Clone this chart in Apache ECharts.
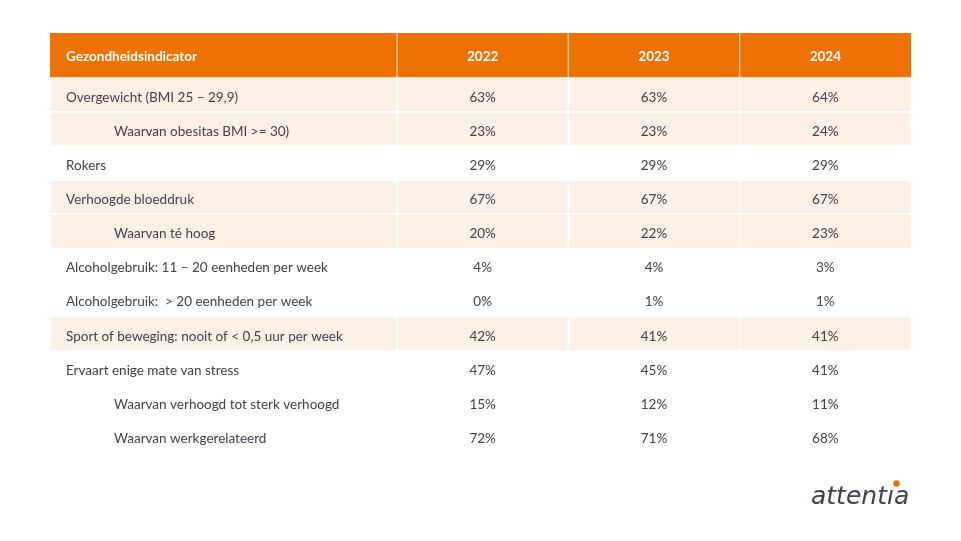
<!DOCTYPE html>
<html><head><meta charset="utf-8">
<script src="https://cdn.jsdelivr.net/npm/echarts@6/dist/echarts.min.js"></script>
<style>html,body{margin:0;padding:0;background:#fff}#c{width:961px;height:541px}</style>
</head><body><div id="c"></div>
<script>
// ---- data ----
const headerLabel = 'Gezondheidsindicator';
const years = ['2022', '2023', '2024'];
const indicators = [
  'Overgewicht (BMI 25 – 29,9)',
  'Waarvan obesitas BMI >= 30)',
  'Rokers',
  'Verhoogde bloeddruk',
  'Waarvan té hoog',
  'Alcoholgebruik: 11 – 20 eenheden per week',
  'Alcoholgebruik:  > 20 eenheden per week',
  'Sport of beweging: nooit of < 0,5 uur per week',
  'Ervaart enige mate van stress',
  'Waarvan verhoogd tot sterk verhoogd',
  'Waarvan werkgerelateerd'
];
const values2022 = [63, 23, 29, 67, 20, 4, 0, 42, 47, 15, 72];
const values2023 = [63, 23, 29, 67, 22, 4, 1, 41, 45, 12, 71];
const values2024 = [64, 24, 29, 67, 23, 3, 1, 41, 41, 11, 68];
const subRows = [false, true, false, false, true, false, false, false, false, true, true];
const shadedRows = [true, true, false, true, true, false, false, true, false, false, false];

// ---- styles ----
const ORANGE = '#EE7203';
const SHADE = '#FDF0E6';
const TXT = '#40404F';
const FONT = 'Lato, "Open Sans", sans-serif';
const TEXT_DY = 2.5;
const BODY_FS = 13.5;
const HEAD_FS = 13.5;

const valueSeries = [values2022, values2023, values2024];
const bodyData = [];
valueSeries.forEach((arr, ci) => arr.forEach((v, ri) => bodyData.push([ci, ri, v])));
const labelData = indicators.map((t, ri) => [0, ri, t]);

function cellRect(api) {
  const c = api.coord([api.value(0), api.value(1)]);
  const s = api.size([1, 1]);
  return { c, x: c[0] - s[0] / 2, y: c[1] - s[1] / 2, w: s[0], h: s[1] };
}

const hiddenCat = (data, inverse) => ({
  type: 'category', data, show: false, inverse: !!inverse,
  axisLine: { show: false }, axisTick: { show: false }, axisLabel: { show: false }, splitLine: { show: false }
});

const chart = echarts.init(document.getElementById('c'), null, { renderer: 'canvas' });
chart.setOption({
  backgroundColor: '#ffffff',
  animation: false,
  grid: [
    { left: 50, top: 33, width: 347, height: 45 },
    { left: 397, top: 33, width: 514, height: 45 },
    { left: 50, top: 78, width: 347, height: 375 },
    { left: 397, top: 78, width: 514, height: 375 }
  ],
  xAxis: [
    Object.assign(hiddenCat([headerLabel]), { gridIndex: 0 }),
    Object.assign(hiddenCat(years), { gridIndex: 1 }),
    Object.assign(hiddenCat(['label']), { gridIndex: 2 }),
    Object.assign(hiddenCat(years), { gridIndex: 3 })
  ],
  yAxis: [
    Object.assign(hiddenCat(['h']), { gridIndex: 0 }),
    Object.assign(hiddenCat(['h']), { gridIndex: 1 }),
    Object.assign(hiddenCat(indicators, true), { gridIndex: 2 }),
    Object.assign(hiddenCat(indicators, true), { gridIndex: 3 })
  ],
  series: [
    {
      type: 'custom', xAxisIndex: 0, yAxisIndex: 0, silent: true,
      data: [[0, 0, headerLabel]],
      renderItem: (p, api) => {
        const r = cellRect(api);
        return { type: 'group', children: [
          { type: 'rect', shape: { x: r.x, y: r.y, width: r.w, height: r.h }, style: { fill: ORANGE } },
          { type: 'text', style: { text: headerLabel, x: r.x + 16, y: r.c[1] + 1.5, align: 'left', verticalAlign: 'middle',
            fontFamily: FONT, fontSize: HEAD_FS, fontWeight: 'bold', fill: '#ffffff' } }
        ] };
      }
    },
    {
      type: 'custom', xAxisIndex: 1, yAxisIndex: 1, silent: true,
      data: years.map((y, i) => [i, 0, y]),
      renderItem: (p, api) => {
        const r = cellRect(api);
        return { type: 'group', children: [
          { type: 'rect', shape: { x: r.x, y: r.y, width: r.w, height: r.h }, style: { fill: ORANGE } },
          { type: 'line', shape: { x1: r.x, y1: r.y, x2: r.x, y2: r.y + r.h }, style: { stroke: '#F8C9A0', lineWidth: 1.5 } },
          { type: 'text', style: { text: years[p.dataIndex], x: r.c[0], y: r.c[1] + 1.5, align: 'center', verticalAlign: 'middle',
            fontFamily: FONT, fontSize: HEAD_FS, fontWeight: 'bold', fill: '#ffffff' } }
        ] };
      }
    },
    {
      type: 'custom', xAxisIndex: 2, yAxisIndex: 2, silent: true,
      data: labelData,
      renderItem: (p, api) => {
        const r = cellRect(api);
        const ri = api.value(1);
        return { type: 'group', children: [
          { type: 'rect', shape: { x: r.x, y: r.y, width: r.w, height: r.h },
            style: { fill: shadedRows[ri] ? SHADE : '#ffffff', stroke: '#ffffff', lineWidth: 1.5 } },
          { type: 'text', style: { text: indicators[ri], x: r.x + (subRows[ri] ? 64 : 16), y: r.c[1] + TEXT_DY, align: 'left', verticalAlign: 'middle',
            fontFamily: FONT, fontSize: BODY_FS, fill: TXT } }
        ] };
      }
    },
    {
      type: 'custom', xAxisIndex: 3, yAxisIndex: 3, silent: true,
      data: bodyData,
      renderItem: (p, api) => {
        const r = cellRect(api);
        const ri = api.value(1);
        return { type: 'group', children: [
          { type: 'rect', shape: { x: r.x, y: r.y, width: r.w, height: r.h },
            style: { fill: shadedRows[ri] ? SHADE : '#ffffff', stroke: '#ffffff', lineWidth: 1.5 } },
          { type: 'text', style: { text: api.value(2) + '%', x: r.c[0], y: r.c[1] + TEXT_DY, align: 'center', verticalAlign: 'middle',
            fontFamily: FONT, fontSize: BODY_FS, fill: TXT } }
        ] };
      }
    }
  ],
  graphic: [
    { type: 'text', left: 811, top: 485, style: { text: 'attentıa', fontFamily: '"DejaVu Sans", sans-serif', fontStyle: 'italic',
      fontSize: 25, fill: '#3F3F55' } },
    { type: 'circle', shape: { cx: 896.5, cy: 483.5, r: 3.2 }, style: { fill: ORANGE } }
  ]
});
</script></body></html>
